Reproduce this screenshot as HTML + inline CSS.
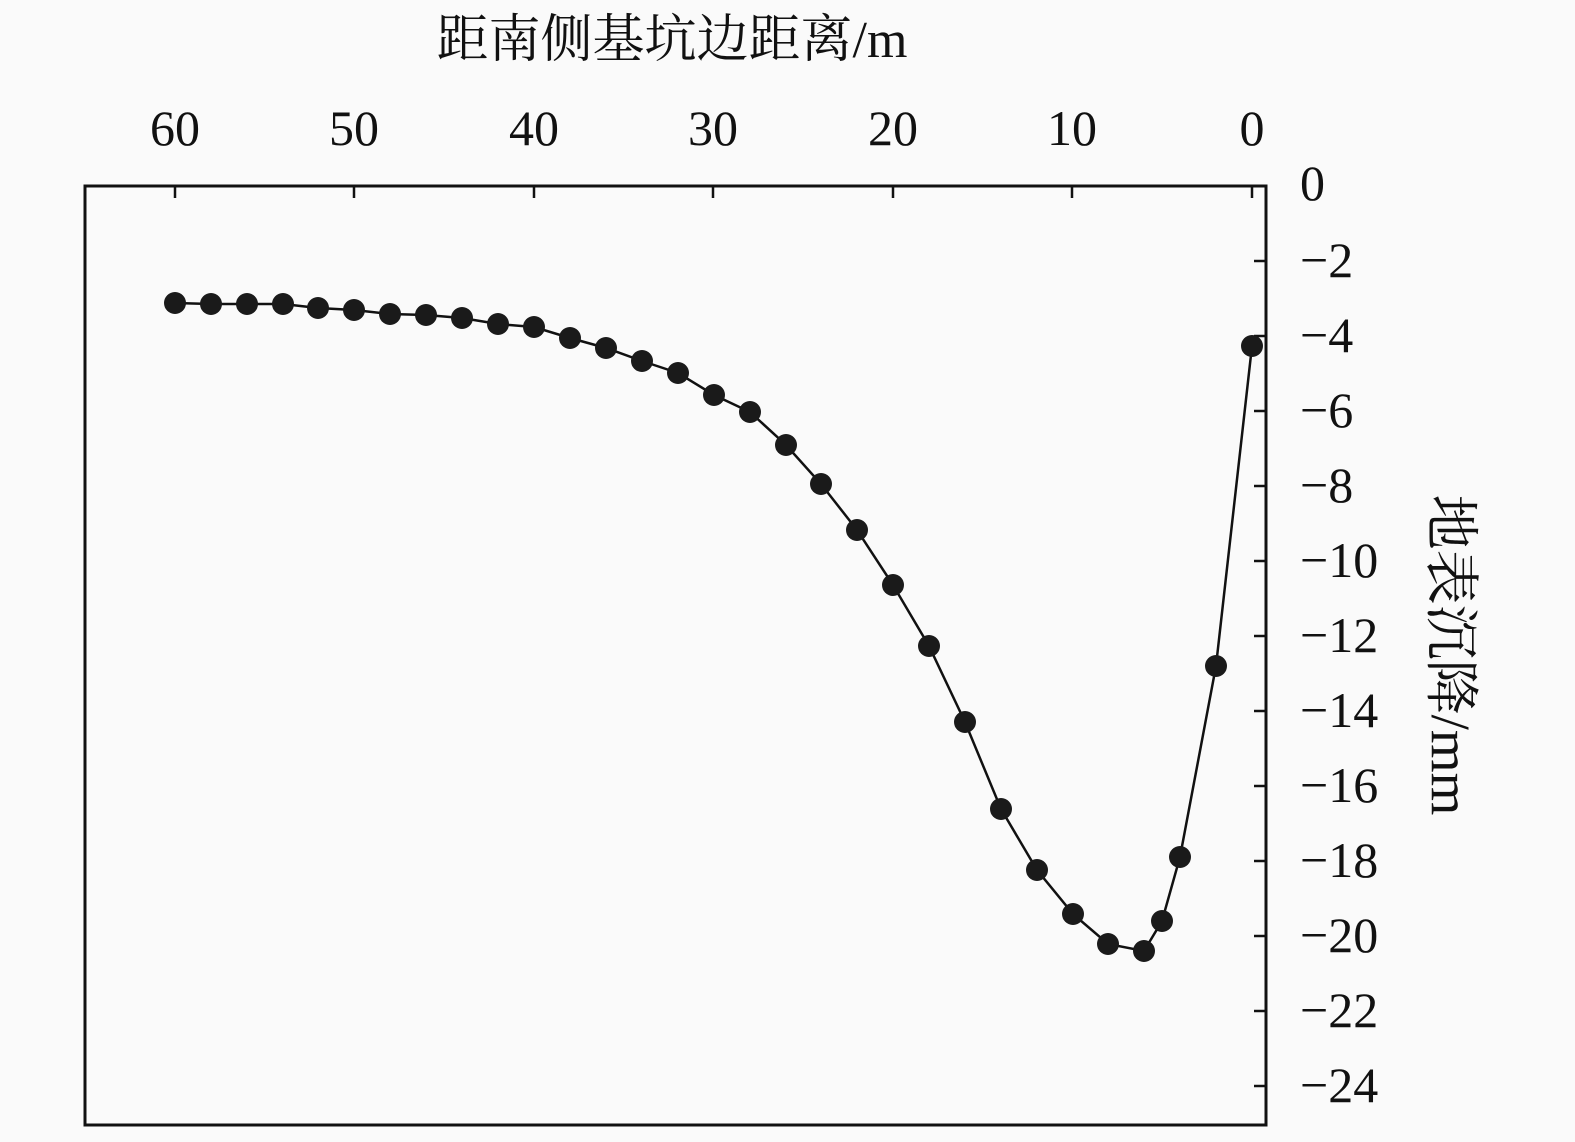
<!DOCTYPE html>
<html><head><meta charset="utf-8"><style>
html,body{margin:0;padding:0;background:#fafafa;}
svg{display:block;}
text{font-family:"Liberation Serif","Noto Serif CJK SC",serif;fill:#111;}
</style></head><body>
<svg width="1575" height="1142" viewBox="0 0 1575 1142">
<rect width="1575" height="1142" fill="#fafafa"/>
<text x="672" y="57" font-size="52" text-anchor="middle">距南侧基坑边距离/m</text>
<g font-size="50" text-anchor="middle">
<text x="175" y="145">60</text><text x="354" y="145">50</text><text x="534" y="145">40</text>
<text x="713" y="145">30</text><text x="893" y="145">20</text><text x="1072" y="145">10</text><text x="1252" y="145">0</text>
</g>
<rect x="85" y="186" width="1181" height="939" fill="none" stroke="#111" stroke-width="3"/>
<g stroke="#111" stroke-width="2.5">
<line x1="175" y1="186" x2="175" y2="198"/><line x1="354" y1="186" x2="354" y2="198"/><line x1="534" y1="186" x2="534" y2="198"/>
<line x1="713" y1="186" x2="713" y2="198"/><line x1="893" y1="186" x2="893" y2="198"/><line x1="1072" y1="186" x2="1072" y2="198"/><line x1="1252" y1="186" x2="1252" y2="198"/>
<line x1="1254" y1="261" x2="1266" y2="261"/><line x1="1254" y1="336" x2="1266" y2="336"/><line x1="1254" y1="411" x2="1266" y2="411"/>
<line x1="1254" y1="486" x2="1266" y2="486"/><line x1="1254" y1="561" x2="1266" y2="561"/><line x1="1254" y1="636" x2="1266" y2="636"/>
<line x1="1254" y1="711" x2="1266" y2="711"/><line x1="1254" y1="786" x2="1266" y2="786"/><line x1="1254" y1="861" x2="1266" y2="861"/>
<line x1="1254" y1="936" x2="1266" y2="936"/><line x1="1254" y1="1011" x2="1266" y2="1011"/><line x1="1254" y1="1086" x2="1266" y2="1086"/>
</g>
<g font-size="50">
<text x="1300" y="200">0</text>
<text x="1300" y="277">−2</text><text x="1300" y="352">−4</text><text x="1300" y="427">−6</text><text x="1300" y="502">−8</text>
<text x="1300" y="577">−10</text><text x="1300" y="652">−12</text><text x="1300" y="727">−14</text><text x="1300" y="802">−16</text>
<text x="1300" y="877">−18</text><text x="1300" y="952">−20</text><text x="1300" y="1027">−22</text><text x="1300" y="1102">−24</text>
</g>
<text transform="translate(1432,655) rotate(90)" font-size="55" text-anchor="middle">地表沉降/mm</text>
<polyline fill="none" stroke="#111" stroke-width="2.5" points="175,303 211,304 247,304 283,304 318,308 354,310 390,314 426,315 462,318 498,324 534,327 570,338 606,348 642,361 678,373 714,395 750,412 786,445 821,484 857,530 893,585 929,646 965,722 1001,809 1037,870 1073,914 1108,944 1144,951 1162,921 1180,857 1216,666 1252,346"/>
<g fill="#1a1a1a">
<circle cx="175" cy="303" r="11"/><circle cx="211" cy="304" r="11"/><circle cx="247" cy="304" r="11"/><circle cx="283" cy="304" r="11"/>
<circle cx="318" cy="308" r="11"/><circle cx="354" cy="310" r="11"/><circle cx="390" cy="314" r="11"/><circle cx="426" cy="315" r="11"/>
<circle cx="462" cy="318" r="11"/><circle cx="498" cy="324" r="11"/><circle cx="534" cy="327" r="11"/><circle cx="570" cy="338" r="11"/>
<circle cx="606" cy="348" r="11"/><circle cx="642" cy="361" r="11"/><circle cx="678" cy="373" r="11"/><circle cx="714" cy="395" r="11"/>
<circle cx="750" cy="412" r="11"/><circle cx="786" cy="445" r="11"/><circle cx="821" cy="484" r="11"/><circle cx="857" cy="530" r="11"/>
<circle cx="893" cy="585" r="11"/><circle cx="929" cy="646" r="11"/><circle cx="965" cy="722" r="11"/><circle cx="1001" cy="809" r="11"/>
<circle cx="1037" cy="870" r="11"/><circle cx="1073" cy="914" r="11"/><circle cx="1108" cy="944" r="11"/><circle cx="1144" cy="951" r="11"/>
<circle cx="1162" cy="921" r="11"/><circle cx="1180" cy="857" r="11"/><circle cx="1216" cy="666" r="11"/><circle cx="1252" cy="346" r="11"/>
</g>
</svg>
</body></html>
